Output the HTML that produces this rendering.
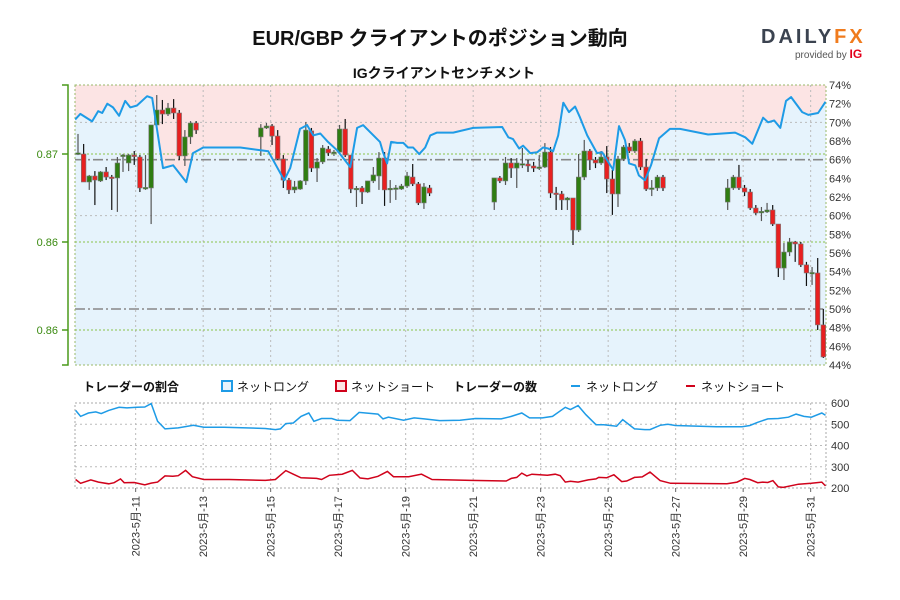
<!DOCTYPE html>
<html><head><meta charset="utf-8"><style>
body{margin:0;background:#fff;width:900px;height:600px;overflow:hidden;font-family:"Liberation Sans","Noto Sans CJK JP",sans-serif}
svg{display:block}
</style></head><body>
<svg id="c" width="900" height="600" xmlns="http://www.w3.org/2000/svg">
<text x="440" y="45" text-anchor="middle" font-size="20" font-weight="bold" fill="#111" font-family="Liberation Sans, Noto Sans CJK JP, sans-serif">EUR/GBP クライアントのポジション動向</text>
<text x="444" y="78" text-anchor="middle" font-size="14" font-weight="bold" fill="#111" font-family="Liberation Sans, Noto Sans CJK JP, sans-serif">IGクライアントセンチメント</text>
<g>
<text x="761" y="43" font-size="20" font-weight="bold" fill="#3b4350" letter-spacing="3" font-family="Liberation Sans, sans-serif">DAILY<tspan fill="#f07b1d">FX</tspan></text>
<text x="795" y="58" font-size="10" fill="#555" font-family="Liberation Sans, sans-serif">provided by <tspan fill="#e3001b" font-weight="bold" font-size="12">IG</tspan></text>
</g>
<g id="main"></g>
<g id="legend" font-size="12" font-family="Liberation Sans, Noto Sans CJK JP, sans-serif">
<text x="83" y="391" font-weight="bold" fill="#111">トレーダーの割合</text>
<rect x="222" y="381" width="10" height="10" fill="#e6f3fc" stroke="#1e9be6" stroke-width="2"/>
<text x="237" y="391" fill="#111">ネットロング</text>
<rect x="336" y="381" width="10" height="10" fill="#fce4e4" stroke="#d0021b" stroke-width="2"/>
<text x="351" y="391" fill="#111">ネットショート</text>
<text x="453" y="391" font-weight="bold" fill="#111">トレーダーの数</text>
<line x1="571" y1="386" x2="580" y2="386" stroke="#1e9be6" stroke-width="2"/>
<text x="586" y="391" fill="#111">ネットロング</text>
<line x1="686" y1="386" x2="695" y2="386" stroke="#d0021b" stroke-width="2"/>
<text x="701" y="391" fill="#111">ネットショート</text>
</g>
<g id="bottom"></g>
</svg>
<script>
// ---- data ----
const segStartHours=[7,137,303,469];
const segCounts=[22,31,31,18];
const opens=[0.87000,0.87000,0.86841,0.86875,0.86847,0.86898,0.86869,0.86864,0.86989,0.86949,0.86994,0.86983,0.86807,0.86807,0.87165,0.87250,0.87227,0.87261,0.87233,0.86989,0.87097,0.87176,
0.87097,0.87148,0.87159,0.87102,0.86972,0.86852,0.86796,0.86801,0.86847,0.87131,0.86920,0.86955,0.87028,0.87006,0.87011,0.87142,0.86994,0.86801,0.86807,0.86784,0.86847,0.86875,0.86977,0.86801,0.86801,0.86801,0.86818,0.86869,0.86830,0.86722,0.86807,
0.86727,0.86864,0.86847,0.86949,0.86920,0.86943,0.86943,0.86932,0.86920,0.86926,0.87011,0.86778,0.86773,0.86739,0.86750,0.86568,0.86869,0.87017,0.86966,0.86949,0.86983,0.86858,0.86773,0.86972,0.87040,0.87017,0.87074,0.86926,0.86801,0.86807,0.86869,
0.86727,0.86807,0.86869,0.86807,0.86784,0.86693,0.86671,0.86671,0.86682,0.86602,0.86352,0.86443,0.86500,0.86489,0.86370,0.86324,0.86324,0.86029];
const closes=[0.87006,0.86841,0.86875,0.86852,0.86898,0.86869,0.86864,0.86949,0.86994,0.86994,0.86989,0.86807,0.86810,0.87165,0.87250,0.87227,0.87261,0.87233,0.86989,0.87097,0.87176,0.87136,
0.87148,0.87159,0.87102,0.86972,0.86852,0.86796,0.86813,0.86847,0.87136,0.86920,0.86955,0.87034,0.87006,0.87011,0.87142,0.86994,0.86801,0.86805,0.86784,0.86847,0.86881,0.86977,0.86796,0.86805,0.86807,0.86818,0.86875,0.86830,0.86722,0.86813,0.86778,
0.86864,0.86847,0.86949,0.86920,0.86949,0.86945,0.86932,0.86920,0.86926,0.87011,0.86778,0.86773,0.86739,0.86750,0.86568,0.86869,0.87017,0.86966,0.86949,0.86983,0.86858,0.86773,0.86972,0.87040,0.87017,0.87074,0.86926,0.86801,0.86807,0.86869,0.86807,
0.86807,0.86869,0.86807,0.86784,0.86693,0.86665,0.86674,0.86682,0.86602,0.86352,0.86443,0.86500,0.86489,0.86370,0.86324,0.86327,0.86029,0.85847];
const highs=[0.87114,0.87057,0.86881,0.86903,0.86903,0.86926,0.86881,0.86983,0.87000,0.87000,0.87017,0.86994,0.86994,0.87165,0.87335,0.87307,0.87290,0.87312,0.87250,0.87136,0.87187,0.87187,
0.87170,0.87176,0.87170,0.87136,0.86994,0.86864,0.86847,0.86852,0.87182,0.87148,0.86977,0.87051,0.87045,0.87023,0.87165,0.87199,0.86994,0.86818,0.86818,0.86847,0.86926,0.87011,0.87011,0.86852,0.86824,0.86830,0.86898,0.86943,0.86841,0.86835,0.86824,
0.86864,0.86875,0.86983,0.86977,0.86977,0.87034,0.86966,0.86955,0.86994,0.87062,0.87040,0.86813,0.86790,0.86756,0.86750,0.87000,0.87080,0.87028,0.86983,0.87017,0.87045,0.86909,0.86989,0.87051,0.87062,0.87085,0.87091,0.86972,0.86852,0.86881,0.86881,
0.86858,0.86881,0.86938,0.86824,0.86801,0.86710,0.86699,0.86722,0.86710,0.86602,0.86494,0.86523,0.86506,0.86500,0.86387,0.86358,0.86409,0.86120];
const lows=[0.86994,0.86841,0.86796,0.86710,0.86841,0.86852,0.86682,0.86671,0.86898,0.86903,0.86938,0.86784,0.86796,0.86602,0.87165,0.87170,0.87216,0.87199,0.86966,0.86932,0.87057,0.87114,
0.86989,0.87142,0.87051,0.86966,0.86807,0.86773,0.86778,0.86796,0.86824,0.86898,0.86841,0.86943,0.86989,0.86989,0.87006,0.86983,0.86778,0.86699,0.86716,0.86778,0.86835,0.86796,0.86705,0.86722,0.86739,0.86796,0.86807,0.86818,0.86710,0.86688,0.86761,
0.86682,0.86835,0.86824,0.86864,0.86807,0.86920,0.86898,0.86898,0.86909,0.86920,0.86750,0.86682,0.86682,0.86682,0.86483,0.86557,0.86852,0.86909,0.86920,0.86938,0.86778,0.86654,0.86699,0.86960,0.87006,0.87006,0.86909,0.86790,0.86761,0.86790,0.86790,
0.86682,0.86796,0.86796,0.86761,0.86682,0.86654,0.86619,0.86665,0.86591,0.86301,0.86284,0.86420,0.86387,0.86358,0.86250,0.86256,0.86000,0.85841];
const sentDays=[0.21,0.36,0.71,0.89,1.01,1.16,1.33,1.51,1.69,1.84,2.04,2.34,2.49,2.81,3.11,3.50,3.70,4.00,5.10,5.93,6.40,6.58,6.87,7.08,7.26,7.47,7.70,7.97,8.36,8.56,8.74,9.24,9.33,9.45,9.57,9.75,9.93,10.07,10.22,10.40,10.58,10.73,10.93,11.41,12.00,12.86,13.04,13.18,13.36,13.48,13.69,13.90,14.07,14.22,14.37,14.52,14.67,14.84,15.02,15.17,15.38,15.67,15.82,16.15,16.32,16.50,16.62,16.80,16.91,17.09,17.27,17.51,17.83,18.13,18.96,19.76,20.06,20.27,20.59,20.74,20.92,21.10,21.27,21.42,21.75,21.93,22.22,22.44];
const sentLong=[70.3,70.9,70.1,71.2,71.0,72.0,71.6,70.7,72.3,71.6,71.8,72.8,72.6,65.1,65.4,63.6,66.7,67.3,67.3,66.9,63.8,65.1,69.3,69.7,68.6,68.8,67.9,67.0,65.2,69.4,69.7,67.9,66.8,65.6,67.9,67.8,67.8,67.3,67.3,66.6,67.3,68.6,68.9,68.9,69.4,69.5,68.4,68.2,67.2,67.5,66.7,66.8,67.3,67.2,66.9,68.6,72.1,71.1,71.7,70.5,68.6,66.7,66.8,64.9,69.6,68.1,65.6,65.4,64.3,63.8,65.4,68.3,69.3,69.3,68.7,68.9,68.4,67.7,70.5,70.0,70.2,69.4,72.3,72.7,71.1,70.8,71.0,72.2];
const longDays=[0.22,0.37,0.60,0.82,0.98,1.20,1.51,1.74,2.04,2.27,2.46,2.65,2.87,3.26,3.71,4.02,4.62,5.84,6.14,6.29,6.45,6.67,6.90,7.13,7.28,7.51,7.81,7.97,8.35,8.62,9.18,9.33,9.49,9.94,10.25,10.55,11.01,11.61,12.07,12.83,13.13,13.44,13.67,14.05,14.35,14.73,14.88,15.11,15.34,15.64,15.87,16.25,16.43,16.78,17.09,17.24,17.54,17.77,17.99,19.21,19.97,20.20,20.43,20.73,21.04,21.34,21.57,21.80,22.02,22.33,22.44];
const longCounts=[565,537,553,558,550,565,580,577,580,581,597,514,478,483,495,486,486,480,475,478,503,506,537,553,514,527,527,519,517,556,548,525,533,519,530,525,517,519,527,525,537,553,530,530,537,580,569,588,545,498,498,491,522,478,475,475,495,500,494,488,488,494,509,525,527,533,548,537,533,553,542];
const shortDays=[0.22,0.37,0.67,0.90,1.20,1.36,1.55,1.66,1.96,2.27,2.46,2.65,2.87,3.10,3.26,3.48,3.68,4.02,4.77,5.84,6.14,6.45,6.67,6.90,7.36,7.51,7.74,8.12,8.42,8.65,8.88,9.18,9.46,9.64,10.09,10.47,10.78,11.92,12.98,13.13,13.29,13.44,13.59,13.74,13.97,14.20,14.43,14.58,14.73,14.88,15.11,15.41,15.64,15.72,15.95,16.17,16.40,16.55,16.78,17.01,17.24,17.54,17.85,19.52,19.82,20.05,20.20,20.43,20.58,20.73,20.88,21.04,21.19,21.64,22.02,22.33,22.44];
const shortCounts=[240,222,238,228,220,225,243,225,226,215,223,228,257,255,258,283,253,240,240,236,240,282,265,248,245,240,260,265,283,247,243,255,278,253,253,265,240,236,233,245,250,270,257,265,262,260,265,258,228,232,228,238,243,250,248,262,230,233,250,252,275,235,222,220,228,245,240,225,228,226,235,205,203,218,222,228,210];
const priceTicks=[0.870,0.865,0.860];
const priceTickLabels=["0.87","0.86","0.86"];
const pctTicks=[74,72,70,68,66,64,62,60,58,56,54,52,50,48,46,44];
const countTicks=[600,500,400,300,200];
const dateTickDays=[2,4,6,8,10,12,14,16,18,20,22];
const dateTickLabels=["2023-5月-11","2023-5月-13","2023-5月-15","2023-5月-17","2023-5月-19","2023-5月-21","2023-5月-23","2023-5月-25","2023-5月-27","2023-5月-29","2023-5月-31"];

// ---- scales ----
const PL=75,PR=826,PT=85,PB=365,BT=403,BB=488;
const xS=d=>68.16+d*33.75;
const yP=p=>154+(0.870-p)/0.005*88;
const yS=v=>PT+(74-v)*(PB-PT)/30;
const yC=v=>BT+(600-v)*(BB-BT)/400;
const NS='http://www.w3.org/2000/svg';
function mk(parent,tag,attrs){const e=document.createElementNS(NS,tag);for(const k in attrs)e.setAttribute(k,attrs[k]);parent.appendChild(e);return e;}
const main=document.getElementById('main');
const bottom=document.getElementById('bottom');

// clip
const defs=mk(main,'defs',{});
const cp=mk(defs,'clipPath',{id:'cp'});mk(cp,'rect',{x:PL,y:PT,width:PR-PL,height:PB-PT});
const cp2=mk(defs,'clipPath',{id:'cp2'});mk(cp2,'rect',{x:PL,y:BT-2,width:PR-PL,height:BB-BT+4});

// backgrounds
const pink=mk(main,'rect',{x:PL,y:PT,width:PR-PL,height:PB-PT,fill:'#fce4e4'});


let sp=sentDays.map((d,i)=>xS(d).toFixed(1)+','+yS(sentLong[i]).toFixed(1));
const area=mk(main,'polygon',{points:PL+','+yS(sentLong[0]).toFixed(1)+' '+sp.join(' ')+' '+PR+','+yS(sentLong[sentLong.length-1]).toFixed(1)+' '+PR+','+PB+' '+PL+','+PB,fill:'#e6f3fc','clip-path':'url(#cp)'});



// grids
dateTickDays.forEach(d=>{const l=mk(main,'line',{x1:xS(d),x2:xS(d),y1:PT,y2:PB,stroke:'#bbb','stroke-dasharray':'2,3'});


const l2=mk(bottom,'line',{x1:xS(d),x2:xS(d),y1:BT,y2:BB,stroke:'#bbb','stroke-dasharray':'2,3'});

});
[70,60].forEach(v=>{const l=mk(main,'line',{x1:PL,x2:PR,y1:yS(v),y2:yS(v),stroke:'#bbb','stroke-dasharray':'2,3'});

});
priceTicks.forEach(p=>{const l=mk(main,'line',{x1:PL,x2:PR,y1:yP(p),y2:yP(p),stroke:'#8bc34a','stroke-dasharray':'2,2'});

});
[66,50].forEach(v=>{const l=mk(main,'line',{x1:PL,x2:PR,y1:yS(v),y2:yS(v),stroke:'#888','stroke-width':1.6,'stroke-dasharray':'10,3,2,3'});

});
const border=mk(main,'rect',{x:PL,y:PT,width:PR-PL,height:PB-PT,fill:'none',stroke:'#9ab86a','stroke-dasharray':'2,2'});



// left axis
const la=mk(main,'path',{d:`M62 ${PT} H68 V${PB} H62`,fill:'none',stroke:'#4a9a1a','stroke-width':1.5});


priceTicks.forEach((p,i)=>{mk(main,'line',{x1:62,x2:68,y1:yP(p),y2:yP(p),stroke:'#4a9a1a','stroke-width':1.5});
const t=mk(main,'text',{x:58,y:yP(p)+4,'text-anchor':'end','font-size':11,fill:'#3a8a10'});t.textContent=priceTickLabels[i];

});
// right axis
pctTicks.forEach(v=>{const t=mk(main,'text',{x:829,y:yS(v)+4,'font-size':11,fill:'#333'});t.textContent=v+'%';

});

// candles
const cg=mk(main,'g',{'clip-path':'url(#cp)'});
let idx=0;
segStartHours.forEach((h0,s)=>{for(let k=0;k<segCounts[s];k++){const i=idx++;const x=xS((h0+4*k)/24);
const o=opens[i],c=closes[i],up=c>=o;
const w=mk(cg,'line',{x1:x,x2:x,y1:yP(highs[i]),y2:yP(lows[i]),stroke:up?'#555':'#111','stroke-width':1.2});


const top=yP(Math.max(o,c)),bh=Math.max(1.5,Math.abs(yP(o)-yP(c)));
const b=mk(cg,'rect',{x:x-2.3,y:top,width:4.6,height:bh,fill:up?'#2f7d12':'#e82020',stroke:'#777','stroke-width':0.6});

}});

// sentiment line
const sl=mk(main,'polyline',{points:sp.join(' '),fill:'none',stroke:'#1e9be6','stroke-width':2,'stroke-linejoin':'round','clip-path':'url(#cp)'});



// bottom panel
[500,400,300].forEach(v=>{const l=mk(bottom,'line',{x1:PL,x2:PR,y1:yC(v),y2:yC(v),stroke:'#bbb','stroke-dasharray':'2,3'});

});
const bb=mk(bottom,'rect',{x:PL,y:BT,width:PR-PL,height:BB-BT,fill:'none',stroke:'#aaa','stroke-dasharray':'2,2'});


countTicks.forEach(v=>{const t=mk(bottom,'text',{x:831,y:yC(v)+4,'font-size':11,fill:'#333'});t.textContent=v;

});
const ll=mk(bottom,'polyline',{points:longDays.map((d,i)=>xS(d).toFixed(1)+','+yC(longCounts[i]).toFixed(1)).join(' '),fill:'none',stroke:'#1e9be6','stroke-width':1.5,'clip-path':'url(#cp2)'});


const sl2=mk(bottom,'polyline',{points:shortDays.map((d,i)=>xS(d).toFixed(1)+','+yC(shortCounts[i]).toFixed(1)).join(' '),fill:'none',stroke:'#d0021b','stroke-width':1.5,'clip-path':'url(#cp2)'});


dateTickDays.forEach((d,i)=>{const x=xS(d);
mk(bottom,'line',{x1:x,x2:x,y1:BB,y2:BB+4,stroke:'#666'});
const t=mk(bottom,'text',{x:0,y:0,'font-size':11,fill:'#333','text-anchor':'end',transform:`translate(${x+4},${BB+8}) rotate(-90)`});
t.textContent=dateTickLabels[i];

});
</script>
</body></html>
